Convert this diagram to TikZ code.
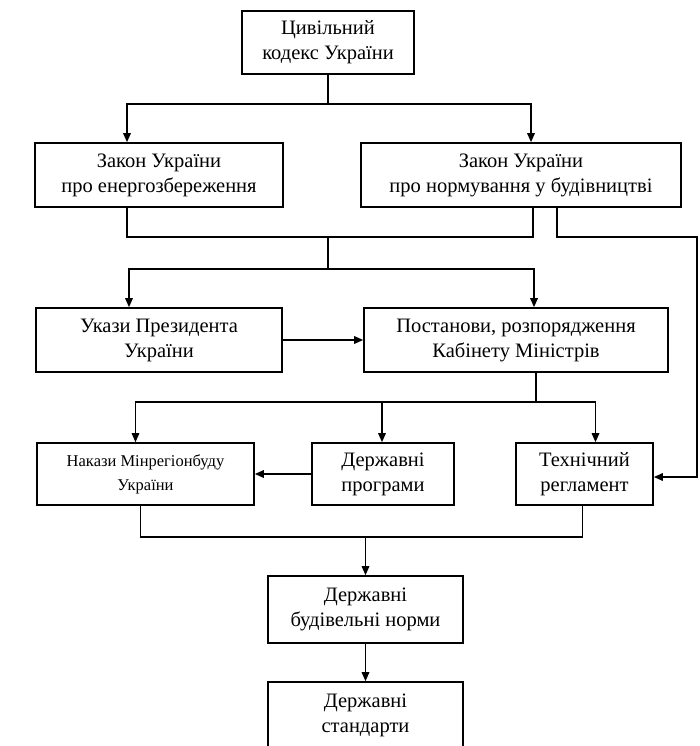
\documentclass[tikz,border=0pt]{standalone}
\usepackage{fontspec}
\setmainfont{Liberation Serif}
\usepackage{tikz}
\usetikzlibrary{arrows.meta, positioning, calc}

\tikzset{
    blok/.style={draw, line width=1.6pt, align=center, inner sep=0pt,
        font=\fontsize{20.5}{25}\selectfont},
    arr/.style={-{Triangle[length=9pt, width=7.5pt]}}
}

\begin{document}
\begin{tikzpicture}[x=1pt, y=-1pt, line width=1.6pt]
    \useasboundingbox (0,0) rectangle (700,746);
    \clip (0,0) rectangle (700,746);

    % верхній рівень
    \node[blok, minimum width=172pt, minimum height=63pt] (kodeks) at (328,42.5) {Цивільний\\кодекс України};

    % закони
    \node[blok, minimum width=248pt, minimum height=64pt] (zakon1) at (159,175) {Закон України\\про енергозбереження};
    \node[blok, minimum width=320pt, minimum height=64pt] (zakon2) at (521,175) {Закон України\\про нормування у будівництві};

    % укази та постанови
    \node[blok, minimum width=246pt, minimum height=64pt] (ukazy) at (159,340) {Укази Президента\\України};
    \node[blok, minimum width=304pt, minimum height=64pt] (postanovy) at (516,340) {Постанови, розпорядження\\Кабінету Міністрів};

    % третій рівень
    \node[blok, minimum width=217pt, minimum height=62pt, font=\fontsize{16.5}{24}\selectfont] (nakazy) at (145.5,474) {Накази Мінрегіонбуду\\України};
    \node[blok, minimum width=142pt, minimum height=62pt] (prohramy) at (383,474) {Державні\\програми};
    \node[blok, minimum width=137pt, minimum height=62pt] (rehlament) at (584.5,474) {Технічний\\регламент};

    % норми і стандарти
    \node[blok, minimum width=195pt, minimum height=67pt] (normy) at (365.5,609.5) {Державні\\будівельні норми};
    \node[blok, minimum width=195pt, minimum height=67pt] (standarty) at (365.5,715.5) {Державні\\стандарти};

    % вузли ліній
    \coordinate (j1) at (328,104);
    \coordinate (j2) at (328,237);
    \coordinate (j3) at (328,269);
    \coordinate (j4) at (536,402);
    \coordinate (j5) at (365.5,537);
    \coordinate (r1) at (697,237);

    % з'єднання
    \draw (kodeks) -- (j1);
    \draw[arr] (j1) -| ([xshift=-32pt]zakon1.north);
    \draw[arr] (j1) -| ([xshift=10pt]zakon2.north);

    \draw ([xshift=-32pt]zakon1.south) |- ([xshift=12pt]zakon2.south |- j2) -- ([xshift=12pt]zakon2.south);
    \draw (j2) -- (j3);
    \draw[arr] (j3) -| ([xshift=-30pt]ukazy.north);
    \draw[arr] (j3) -| ([xshift=18pt]postanovy.north);
    \draw[arr] ([xshift=36pt]zakon2.south) |- (r1) |- ([yshift=-3pt]rehlament.east);

    \draw[arr] (ukazy) -- (postanovy);

    \draw ([xshift=20pt]postanovy.south) -- (j4);
    \draw[arr] (j4) -| ([xshift=-10pt]nakazy.north);
    \draw[arr] (j4) -| ([xshift=-1pt]prohramy.north);
    \draw[arr] (j4) -| ([xshift=11pt]rehlament.north);
    \draw[arr] (prohramy) -- (nakazy);

    \draw ([xshift=-5pt]nakazy.south) |- ([xshift=-2pt]rehlament.south |- j5) -- ([xshift=-2pt]rehlament.south);
    \draw[arr] (j5) -- (normy);
    \draw[arr] (normy) -- (standarty);
\end{tikzpicture}
\end{document}
